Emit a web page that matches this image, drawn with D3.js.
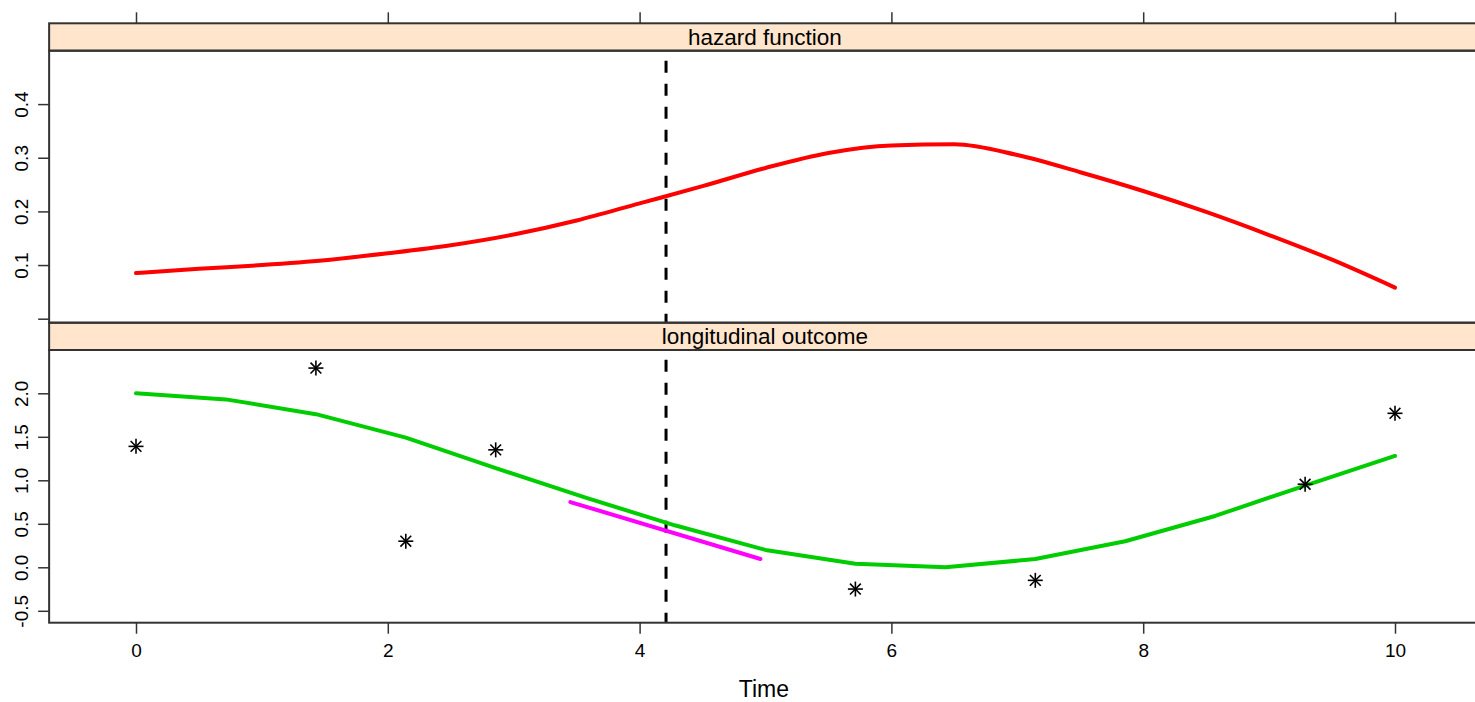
<!DOCTYPE html>
<html>
<head>
<meta charset="utf-8">
<script src="https://cdn.jsdelivr.net/npm/d3@7"></script>
<style>
  body { margin: 0; background: #fff; }
  svg { display: block; font-family: "Liberation Sans", Arial, sans-serif; }
</style>
</head>
<body>
<div id="chart"></div>
<script>
// hazard curve (top panel)
const hazardTime = [0, 0.5, 1, 1.5, 2, 2.5, 3, 3.5, 4, 4.5, 5, 5.5, 6, 6.5, 7, 7.5, 8, 8.5, 9, 9.5, 10];
const hazardValue = [0.085, 0.093, 0.100, 0.109, 0.122, 0.137, 0.157, 0.183, 0.215, 0.247, 0.281,
  0.309, 0.323, 0.325, 0.305, 0.273, 0.238, 0.199, 0.156, 0.110, 0.058];

// fitted longitudinal trajectory (bottom panel)
const fitTime = [0, 0.714, 1.429, 2.143, 2.857, 3.571, 4.286, 5, 5.714, 6.429, 7.143, 7.857, 8.571, 9.286, 10];
const fitValue = [2.0, 1.93, 1.76, 1.49, 1.14, 0.80, 0.48, 0.20, 0.04, 0.0, 0.095, 0.30, 0.59, 0.94, 1.28];

// observed measurements
const obsTime = [0, 1.429, 2.143, 2.857, 5.714, 7.143, 9.286, 10];
const obsValue = [1.39, 2.29, 0.30, 1.35, -0.25, -0.15, 0.955, 1.77];

// tangent segment at the landmark time
const slopeTime = [3.45, 4.96];
const slopeValue = [0.75, 0.095];

const landmark = 4.21;

const xTicks = [0, 2, 4, 6, 8, 10];
const hazardTicks = [0, 0.1, 0.2, 0.3, 0.4];
const hazardTickLabels = ["", "0.1", "0.2", "0.3", "0.4"];
const outcomeTicks = [-0.5, 0, 0.5, 1, 1.5, 2];
const outcomeTickLabels = ["-0.5", "0.0", "0.5", "1.0", "1.5", "2.0"];

const stripLabels = ["hazard function", "longitudinal outcome"];

const W = 1475, H = 702;
const svg = d3.select("#chart").append("svg").attr("width", W).attr("height", H);

const x = d3.scaleLinear().domain([0, 10]).range([136, 1395]);
const left = x(-0.69), right = x(10.68);

// panel geometry
const top1 = { strip: 23.3, plot: 50.7, bottom: 322.7 };
const top2 = { strip: 322.7, plot: 350, bottom: 622.7 };

const yHaz = d3.scaleLinear().domain([0, 0.4]).range([318.7, 104.1]);
const yOut = d3.scaleLinear().domain([0, 2]).range([567.3, 393.3]);

const frameColor = "#333";
const tickFont = 19;

// plot backgrounds
[top1, top2].forEach(p => {
  svg.append("rect")
    .attr("x", left).attr("y", p.plot)
    .attr("width", right - left).attr("height", p.bottom - p.plot)
    .attr("fill", "#fff");
});

// landmark dashed line (drawn once, strips sit on top)
svg.append("line")
  .attr("x1", x(landmark)).attr("x2", x(landmark))
  .attr("y1", top1.plot).attr("y2", top2.bottom)
  .attr("stroke", "#000").attr("stroke-width", 3)
  .attr("stroke-dasharray", "12,11").attr("stroke-dashoffset", 13);

// hazard line
const hazLine = d3.line().curve(d3.curveMonotoneX)
  .x((d, i) => x(hazardTime[i])).y(d => yHaz(d));
svg.append("path")
  .attr("d", hazLine(hazardValue))
  .attr("fill", "none").attr("stroke", "#ff0000")
  .attr("stroke-width", 4).attr("stroke-linecap", "round").attr("stroke-linejoin", "round");

// fitted trajectory
const fitLine = d3.line().x((d, i) => x(fitTime[i])).y(d => yOut(d));
svg.append("path")
  .attr("d", fitLine(fitValue))
  .attr("fill", "none").attr("stroke", "#00cd00")
  .attr("stroke-width", 4).attr("stroke-linecap", "round").attr("stroke-linejoin", "round");

// slope segment
const slopeLine = d3.line().x((d, i) => x(slopeTime[i])).y(d => yOut(d));
svg.append("path")
  .attr("d", slopeLine(slopeValue))
  .attr("fill", "none").attr("stroke", "#ff00ff")
  .attr("stroke-width", 4).attr("stroke-linecap", "round");

// observed points as asterisks (pch = 8)
const r = 7.5;
const star = svg.append("g").attr("stroke", "#000").attr("stroke-width", 1.6);
obsValue.forEach((v, i) => {
  const cx = x(obsTime[i]), cy = yOut(v);
  star.append("line").attr("x1", cx - r).attr("x2", cx + r).attr("y1", cy).attr("y2", cy);
  star.append("line").attr("x1", cx).attr("x2", cx).attr("y1", cy - r).attr("y2", cy + r);
  const d = r * 0.72;
  star.append("line").attr("x1", cx - d).attr("x2", cx + d).attr("y1", cy - d).attr("y2", cy + d);
  star.append("line").attr("x1", cx - d).attr("x2", cx + d).attr("y1", cy + d).attr("y2", cy - d);
});

// strips
[top1, top2].forEach((p, i) => {
  svg.append("rect")
    .attr("x", left).attr("y", p.strip)
    .attr("width", right - left).attr("height", p.plot - p.strip)
    .attr("fill", "#ffe5cc").attr("stroke", frameColor).attr("stroke-width", 2);
  svg.append("text")
    .attr("x", (left + right) / 2).attr("y", (p.strip + p.plot) / 2)
    .attr("dy", "0.36em").attr("text-anchor", "middle")
    .attr("font-size", 22.5).attr("fill", "#000")
    .text(stripLabels[i]);
});

// panel borders
[top1, top2].forEach(p => {
  svg.append("rect")
    .attr("x", left).attr("y", p.plot)
    .attr("width", right - left).attr("height", p.bottom - p.plot)
    .attr("fill", "none").attr("stroke", frameColor).attr("stroke-width", 2);
});

// top axis: ticks only
svg.append("g")
  .attr("transform", `translate(0,${top1.strip})`)
  .call(d3.axisTop(x).tickValues(xTicks).tickSize(11).tickFormat("").tickSizeOuter(0))
  .call(g => g.select(".domain").remove())
  .call(g => g.selectAll(".tick line").attr("stroke", frameColor).attr("stroke-width", 1.5));

// bottom axis
svg.append("g")
  .attr("transform", `translate(0,${top2.bottom})`)
  .call(d3.axisBottom(x).tickValues(xTicks).tickSize(11).tickPadding(10).tickSizeOuter(0))
  .call(g => g.select(".domain").remove())
  .call(g => g.selectAll(".tick line").attr("stroke", frameColor).attr("stroke-width", 1.5))
  .call(g => g.selectAll(".tick text").attr("font-size", tickFont).attr("fill", "#000")
    .attr("font-family", "Liberation Sans, Arial, sans-serif"));

// left axes, rotated labels
function leftAxis(scale, ticks, labels) {
  const g = svg.append("g").attr("transform", `translate(${left},0)`);
  g.call(d3.axisLeft(scale).tickValues(ticks).tickSize(11).tickFormat((d, i) => labels[i]).tickSizeOuter(0))
    .call(g => g.select(".domain").remove())
    .call(g => g.selectAll(".tick line").attr("stroke", frameColor).attr("stroke-width", 1.5));
  g.selectAll(".tick text")
    .attr("font-size", tickFont).attr("fill", "#000")
    .attr("font-family", "Liberation Sans, Arial, sans-serif")
    .attr("x", null)
    .attr("text-anchor", "middle")
    .attr("transform", "translate(-28,0) rotate(-90)")
    .attr("dy", "0.36em");
}
leftAxis(yHaz, hazardTicks, hazardTickLabels);
leftAxis(yOut, outcomeTicks, outcomeTickLabels);

// x title
svg.append("text")
  .attr("x", (left + right) / 2 - 1).attr("y", 689)
  .attr("dy", "0.36em").attr("text-anchor", "middle")
  .attr("font-size", 23).attr("fill", "#000")
  .text("Time");
</script>
</body>
</html>
